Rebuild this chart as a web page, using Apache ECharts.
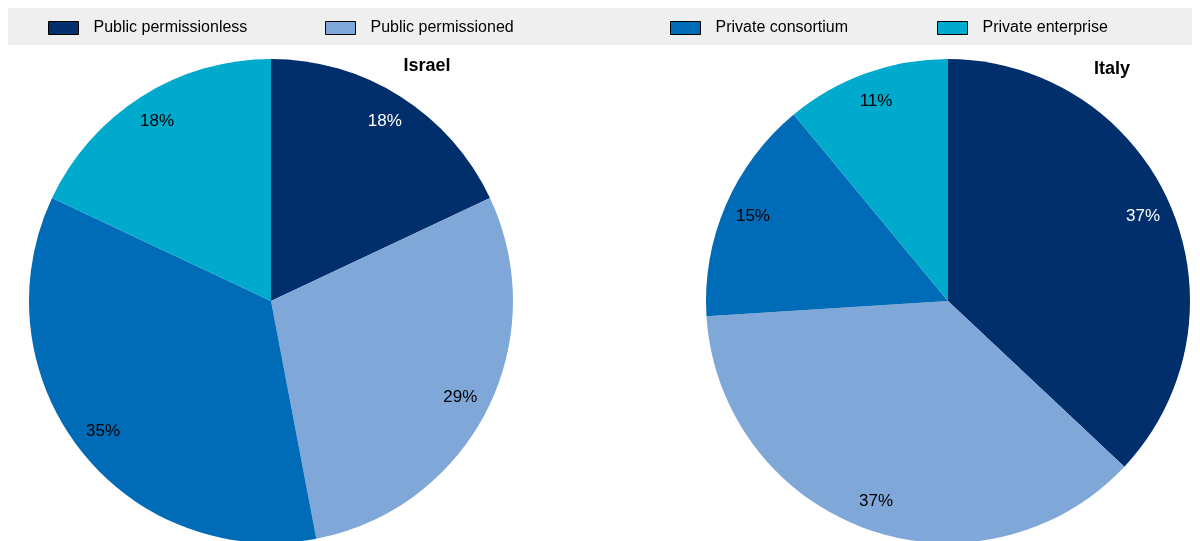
<!DOCTYPE html>
<html>
<head>
<meta charset="utf-8">
<script src="https://cdn.jsdelivr.net/npm/echarts@6/dist/echarts.min.js"></script>
<style>
  html, body { margin: 0; padding: 0; background: #fff; }
  #chart { width: 1200px; height: 541px; }
</style>
</head>
<body>
<div id="chart"></div>
<script>
// Blockchain network types by country (share of projects, %)
const categories = ['Public permissionless', 'Public permissioned', 'Private consortium', 'Private enterprise'];
const colors = ['#002F6C', '#7FA8D9', '#006BB6', '#00AACC'];
const countries = ['Israel', 'Italy'];
const israelValues = [18, 29, 35, 18];
const italyValues = [37, 37, 15, 11];

const FONT = '"Liberation Sans Narrow", "Arial Narrow", "Liberation Sans", Arial, sans-serif';
const R = 242;
const centers = [[271, 301], [948, 301]];
const titlePos = [[427, 57], [1112, 60]];
const legendLeft = [48, 325, 670, 937];

function toData(values) {
  return values.map((v, i) => ({ name: categories[i], value: v }));
}

const series = [];
[israelValues, italyValues].forEach((vals, k) => {
  // filled slices
  series.push({
    type: 'pie',
    center: centers[k],
    radius: [0, R],
    startAngle: 90,
    clockwise: true,
    silent: true,
    animation: false,
    label: { show: false },
    labelLine: { show: false },
    itemStyle: { borderWidth: 0 },
    data: toData(vals).map((d, i) => ({ ...d, itemStyle: { color: colors[i] } }))
  });
  // percentage labels placed near the rim
  series.push({
    type: 'pie',
    center: centers[k],
    radius: [Math.round(R * 0.73), R],
    startAngle: 90,
    clockwise: true,
    silent: true,
    animation: false,
    legendHoverLink: false,
    itemStyle: { color: 'rgba(0,0,0,0)', borderWidth: 0 },
    label: {
      show: true,
      position: 'inside',
      formatter: '{c}%',
      fontFamily: FONT,
      fontSize: 17,
      color: '#000'
    },
    labelLine: { show: false },
    data: toData(vals).map((d, i) => ({
      ...d,
      label: { color: i === 0 ? '#ffffff' : '#000000' }
    }))
  });
});

const option = {
  animation: false,
  color: colors,
  graphic: [{
    type: 'rect',
    shape: { x: 8, y: 8, width: 1184, height: 37 },
    style: { fill: '#EFEFEF' },
    z: -1
  }],
  title: countries.map((c, k) => ({
    text: c,
    left: titlePos[k][0],
    top: titlePos[k][1],
    textAlign: 'center',
    padding: 0,
    textStyle: { fontFamily: FONT, fontSize: 18, fontWeight: 'bold', color: '#000' }
  })),
  legend: categories.map((c, i) => ({
    data: [c],
    left: legendLeft[i],
    top: 20,
    padding: 0,
    itemWidth: 30,
    itemHeight: 13,
    itemGap: 0,
    selectedMode: false,
    icon: 'rect',
    itemStyle: { borderColor: '#000', borderWidth: 1 },
    textStyle: { fontFamily: FONT, fontSize: 16, color: '#000', padding: [4, 0, 0, 10] }
  })),
  series: series
};

const chart = echarts.init(document.getElementById('chart'), null, { renderer: 'canvas' });
chart.setOption(option);
</script>
</body>
</html>
